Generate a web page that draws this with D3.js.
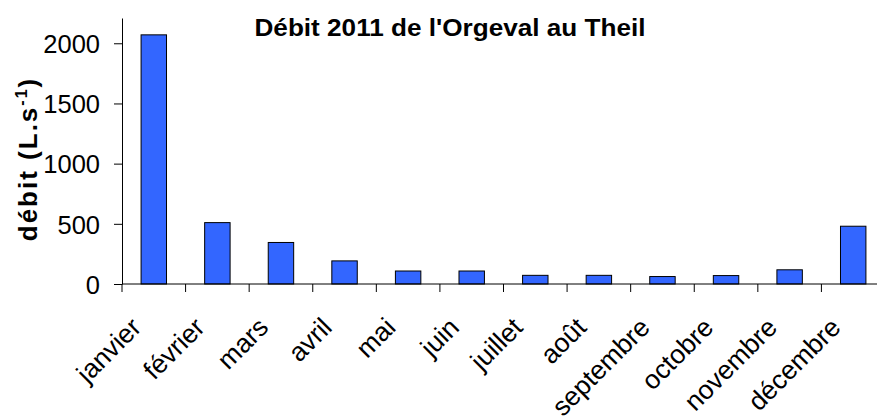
<!DOCTYPE html>
<html>
<head>
<meta charset="utf-8">
<script src="https://cdnjs.cloudflare.com/ajax/libs/d3/7.8.5/d3.min.js"></script>
<style>
	body { margin: 0; background: #fff; }
	svg text { font-family: "Liberation Sans", Arial, sans-serif; fill: #000; }
</style>
</head>
<body>
<div id="chart"></div>
<script>
// monthly discharge, L/s
var months = ["janvier", "février", "mars", "avril", "mai", "juin", "juillet",
              "août", "septembre", "octobre", "novembre", "décembre"];
var debit = [2070, 510, 345, 192, 108, 108, 72, 72, 62, 70, 118, 480];
var yTicks = [0, 500, 1000, 1500, 2000];
var titre = "Débit 2011 de l'Orgeval au Theil";

var W = 877, H = 417;

var svg = d3.select("#chart").append("svg")
	.attr("width", W)
	.attr("height", H);

var x = d3.scaleBand()
	.domain(months)
	.range([122, 885])
	.padding(0);

var y = d3.scaleLinear()
	.domain([0, 2210])
	.range([284, 18]);

// bars (gap width 150%)
var bw = x.bandwidth() * 0.4;
svg.selectAll("rect.bar")
	.data(months)
	.enter().append("rect")
	.attr("class", "bar")
	.attr("x", function(d) { return x(d) + (x.bandwidth() - bw) / 2; })
	.attr("y", function(d, i) { return y(debit[i]); })
	.attr("width", bw)
	.attr("height", function(d, i) { return y(0) - y(debit[i]); })
	.attr("fill", "#3366ff")
	.attr("stroke", "#000")
	.attr("stroke-width", 1);

// y axis
var yAxis = d3.axisLeft(y)
	.tickValues(yTicks)
	.tickFormat(d3.format("d"))
	.tickSize(8)
	.tickPadding(14)
	.tickSizeOuter(0);

var gy = svg.append("g")
	.attr("transform", "translate(122,0)")
	.call(yAxis);
gy.select(".domain").attr("stroke", "#000");
gy.selectAll(".tick line").attr("stroke", "#000");
gy.selectAll(".tick text")
	.attr("font-size", 25.5)
	.attr("font-family", "Liberation Sans, Arial, sans-serif")
	.attr("dy", "0.36em");

// x axis line + ticks at band edges
svg.append("line")
	.attr("x1", 122).attr("x2", 885)
	.attr("y1", y(0)).attr("y2", y(0))
	.attr("stroke", "#000");

svg.selectAll("line.xtick")
	.data(months)
	.enter().append("line")
	.attr("class", "xtick")
	.attr("x1", function(d) { return x(d); })
	.attr("x2", function(d) { return x(d); })
	.attr("y1", y(0))
	.attr("y2", y(0) + 8)
	.attr("stroke", "#000");

// month labels, rotated
svg.selectAll("text.mois")
	.data(months)
	.enter().append("text")
	.attr("class", "mois")
	.attr("text-anchor", "end")
	.attr("font-size", 26.5)
	.attr("transform", function(d) {
		return "translate(" + (x(d) + x.bandwidth() / 2 - 11) + ",329) rotate(-45)";
	})
	.text(function(d) { return d; });

// title
svg.append("text")
	.attr("x", 450)
	.attr("y", 36)
	.attr("text-anchor", "middle")
	.attr("font-size", 23)
	.attr("font-weight", "bold")
	.attr("textLength", 391)
	.attr("lengthAdjust", "spacingAndGlyphs")
	.text(titre);

// y title
var yt = svg.append("text")
	.attr("transform", "translate(37,159) rotate(-90)")
	.attr("text-anchor", "middle")
	.attr("font-size", 26)
	.attr("letter-spacing", 2)
	.attr("font-weight", "bold");
yt.append("tspan").text("débit (L.s");
yt.append("tspan").attr("font-size", 16).attr("dy", -10).text("-1");
yt.append("tspan").attr("dy", 10).text(")");
</script>
</body>
</html>
